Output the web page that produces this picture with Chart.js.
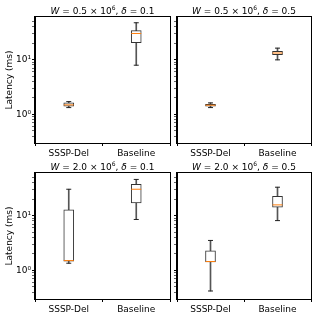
<!DOCTYPE html>
<html><head><meta charset="utf-8">
<script src="https://cdn.jsdelivr.net/npm/chart.js@4/dist/chart.umd.min.js"></script>
<style>
html,body{margin:0;padding:0;background:#fff;}
#wrap{position:relative;width:317px;height:317px;overflow:hidden;}
canvas{position:absolute;left:0;top:0;}
.ttl{position:absolute;font-family:'DejaVu Sans';font-size:9px;line-height:11px;text-align:center;white-space:nowrap;color:#000;}
.ttl sup{font-size:6px;line-height:0;vertical-align:4px;}
</style></head>
<body><div id="wrap"></div>
<script>
// categories and five-number summaries [whiskerLow, q1, median, q3, whiskerHigh]
const categories = ['SSSP-Del', 'Baseline'];
const p1SSSP = [1.33, 1.41, 1.49, 1.62, 1.71];
const p1Base = [7.9, 20.4, 30.0, 33.9, 47.1];
const p2SSSP = [1.33, 1.41, 1.47, 1.53, 1.62];
const p2Base = [9.9, 12.3, 13.2, 14.1, 16.2];
const p3SSSP = [1.35, 1.47, 1.51, 12.8, 30.3];
const p3Base = [8.5, 17.1, 30.3, 37.3, 45.8];
const p4SSSP = [0.42, 1.43, 1.45, 2.28, 3.52];
const p4Base = [8.1, 14.3, 15.7, 22.4, 33.0];
const titlesW = ['0.5', '0.5', '2.0', '2.0'];
const titlesD = ['0.1', '0.5', '0.1', '0.5'];
const yTickValues = [0.4,0.5,0.6,0.7,0.8,0.9,1,2,3,4,5,6,7,8,9,10,20,30,40,50];
const yTickLabels = {1: '10\u2070', 10: '10\u00B9'};
const yMin = 0.335, yMax = 60;

Chart.defaults.font.family = 'DejaVu Sans';
Chart.defaults.font.size = 9;
Chart.defaults.color = '#000';

const frame = {
  id: 'frame',
  afterDraw(chart) {
    const a = chart.chartArea, c = chart.ctx;
    c.save(); c.strokeStyle = '#000'; c.lineWidth = 1;
    c.strokeRect(Math.round(a.left) - 0.5, Math.round(a.top) - 0.5,
                 Math.round(a.right - a.left) + 1, Math.round(a.bottom - a.top) + 1);
    c.restore();
  }
};

const panels = [
  {s: p1SSSP, b: p1Base, pad: {left: 0, top: 17, right: 147, bottom: 157}, left: true},
  {s: p2SSSP, b: p2Base, pad: {left: 172, top: 17, right: 6, bottom: 157}, left: false},
  {s: p3SSSP, b: p3Base, pad: {left: 0, top: 173, right: 147, bottom: 1}, left: true},
  {s: p4SSSP, b: p4Base, pad: {left: 172, top: 173, right: 6, bottom: 1}, left: false}
];

const wrap = document.getElementById('wrap');
panels.forEach((p, i) => {
  const cv = document.createElement('canvas');
  cv.width = 317; cv.height = 317;
  wrap.appendChild(cv);
  const lo = [p.s[0], p.b[0]], q1 = [p.s[1], p.b[1]], med = [p.s[2], p.b[2]],
        q3 = [p.s[3], p.b[3]], hi = [p.s[4], p.b[4]];
  new Chart(cv, {
    data: {
      labels: categories,
      datasets: [
        {type: 'line', data: med, showLine: false, pointStyle: 'line', pointRadius: 5,
         pointBorderColor: '#ff7f0e', pointBorderWidth: 1, borderColor: '#ff7f0e', order: 0},
        {type: 'line', data: lo, showLine: false, pointStyle: 'line', pointRadius: 2.5,
         pointBorderColor: '#222', pointBorderWidth: 1, order: 1},
        {type: 'line', data: hi, showLine: false, pointStyle: 'line', pointRadius: 2.5,
         pointBorderColor: '#222', pointBorderWidth: 1, order: 1},
        {type: 'bar', data: categories.map((c, k) => [q1[k], q3[k]]), backgroundColor: '#fff',
         borderColor: '#333', borderWidth: 1, borderSkipped: false, barThickness: 10,
         grouped: false, order: 2},
        {type: 'bar', data: categories.map((c, k) => [lo[k], hi[k]]), backgroundColor: '#555',
         borderWidth: 0, barThickness: 1, grouped: false, order: 3}
      ]
    },
    options: {
      responsive: false, animation: false, devicePixelRatio: 1,
      layout: {padding: p.pad},
      plugins: {legend: {display: false}, tooltip: {enabled: false}, title: {display: false}},
      scales: {
        x: {
          type: 'category', offset: true,
          grid: {display: true, drawOnChartArea: false, drawTicks: true, tickLength: 3, color: '#000'},
          border: {display: true, color: '#000'},
          ticks: {padding: 2, color: '#000', maxRotation: 0, autoSkip: false},
          afterFit(ax) { ax.height = 17; }
        },
        y: {
          type: 'logarithmic', min: yMin, max: yMax,
          grid: {display: true, drawOnChartArea: false, drawTicks: true, tickLength: 3, color: '#000',
                 tickWidth: ctx => (ctx.tick && (ctx.tick.value === 1 || ctx.tick.value === 10)) ? 1 : 0.6},
          border: {display: true, color: '#000'},
          afterBuildTicks(ax) { ax.ticks = yTickValues.map(v => ({value: v})); },
          ticks: {display: p.left, padding: 1, color: '#000', autoSkip: false,
                  callback: v => yTickLabels[v] || ''},
          title: {display: p.left, text: 'Latency (ms)', color: '#000', padding: {top: 4, bottom: 0}},
          afterFit(ax) { ax.width = p.left ? 35 : 5; }
        }
      }
    },
    plugins: [frame]
  });
  const d = document.createElement('div');
  d.className = 'ttl';
  const cx = p.left ? 102.5 : 244;
  const ty = i < 2 ? 6 : 162;
  d.style.left = (cx - 70) + 'px'; d.style.width = '140px'; d.style.top = ty + 'px';
  d.innerHTML = '<i>W</i> = ' + titlesW[i] + ' \u00D7 10<sup>6</sup>, <i>\u03B4</i> = ' + titlesD[i];
  wrap.appendChild(d);
});
</script></body></html>
